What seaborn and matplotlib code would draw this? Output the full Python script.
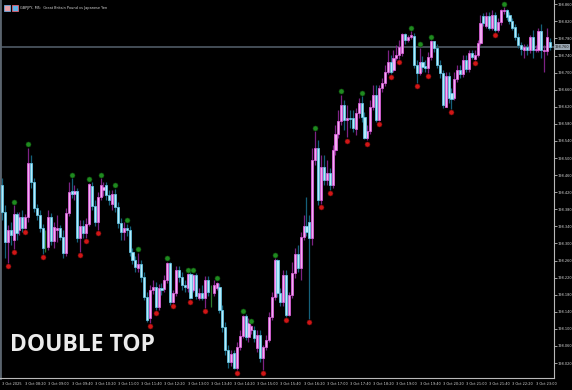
import numpy as np
import pandas as pd
import seaborn as sns
import matplotlib.pyplot as plt
from matplotlib.patches import Rectangle
from matplotlib import font_manager

# ---------------- data (GBPJPY M5, 3 Oct 2025) ----------------
opens = [198.437, 198.374, 198.304, 198.332, 198.308, 198.369, 198.332, 198.362, 198.336, 198.362,
         198.489, 198.444, 198.383, 198.367, 198.336, 198.290, 198.292, 198.362, 198.306, 198.332,
         198.336, 198.315, 198.278, 198.372, 198.423, 198.416, 198.423, 198.313, 198.341, 198.325,
         198.346, 198.435, 198.388, 198.351, 198.409, 198.425, 198.437, 198.414, 198.393, 198.416,
         198.386, 198.348, 198.327, 198.336, 198.332, 198.280, 198.262, 198.243, 198.252, 198.222,
         198.175, 198.126, 198.191, 198.198, 198.152, 198.196, 198.194, 198.215, 198.255, 198.163,
         198.184, 198.238, 198.222, 198.203, 198.196, 198.229, 198.191, 198.227, 198.173, 198.184,
         198.173, 198.215, 198.187, 198.184, 198.196, 198.198, 198.145, 198.105, 198.051, 198.023,
         198.044, 198.009, 198.058, 198.084, 198.131, 198.081, 198.098, 198.098, 198.056, 198.086,
         198.032, 198.058, 198.074, 198.128, 198.175, 198.262, 198.184, 198.163, 198.227, 198.133,
         198.180, 198.231, 198.276, 198.243, 198.315, 198.341, 198.351, 198.313, 198.496, 198.524,
         198.402, 198.479, 198.449, 198.465, 198.437, 198.519, 198.556, 198.587, 198.624, 198.589,
         198.594, 198.594, 198.568, 198.606, 198.629, 198.596, 198.547, 198.563, 198.620, 198.648,
         198.589, 198.664, 198.676, 198.702, 198.725, 198.706, 198.734, 198.741, 198.746, 198.790,
         198.776, 198.783, 198.786, 198.718, 198.699, 198.725, 198.716, 198.711, 198.737, 198.774,
         198.758, 198.718, 198.699, 198.620, 198.692, 198.652, 198.641, 198.685, 198.706, 198.697,
         198.730, 198.709, 198.746, 198.732, 198.741, 198.769, 198.833, 198.809, 198.833, 198.804,
         198.835, 198.800, 198.819, 198.844, 198.847, 198.835, 198.821, 198.807, 198.783, 198.765,
         198.753, 198.760, 198.753, 198.783, 198.753, 198.753, 198.797, 198.751, 198.751, 198.772]

closes = [198.374, 198.304, 198.332, 198.320, 198.369, 198.325, 198.362, 198.336, 198.362, 198.489,
          198.444, 198.383, 198.367, 198.336, 198.290, 198.290, 198.362, 198.306, 198.339, 198.336,
          198.315, 198.278, 198.372, 198.421, 198.416, 198.423, 198.313, 198.341, 198.325, 198.346,
          198.439, 198.388, 198.351, 198.409, 198.437, 198.432, 198.414, 198.402, 198.416, 198.386,
          198.348, 198.327, 198.336, 198.332, 198.280, 198.262, 198.245, 198.252, 198.222, 198.175,
          198.121, 198.191, 198.198, 198.152, 198.196, 198.191, 198.215, 198.255, 198.163, 198.184,
          198.238, 198.222, 198.203, 198.198, 198.229, 198.173, 198.227, 198.177, 198.184, 198.173,
          198.215, 198.187, 198.187, 198.203, 198.208, 198.145, 198.105, 198.051, 198.023, 198.042,
          198.009, 198.058, 198.084, 198.131, 198.081, 198.114, 198.107, 198.079, 198.086, 198.032,
          198.058, 198.074, 198.128, 198.175, 198.262, 198.184, 198.163, 198.227, 198.133, 198.180,
          198.231, 198.276, 198.243, 198.315, 198.341, 198.327, 198.313, 198.496, 198.524, 198.402,
          198.479, 198.449, 198.465, 198.437, 198.519, 198.556, 198.587, 198.624, 198.589, 198.594,
          198.592, 198.570, 198.606, 198.629, 198.596, 198.547, 198.563, 198.620, 198.648, 198.589,
          198.664, 198.676, 198.702, 198.725, 198.702, 198.734, 198.741, 198.760, 198.790, 198.776,
          198.783, 198.788, 198.718, 198.699, 198.725, 198.713, 198.711, 198.737, 198.774, 198.758,
          198.718, 198.699, 198.624, 198.692, 198.641, 198.638, 198.685, 198.706, 198.697, 198.730,
          198.709, 198.746, 198.737, 198.741, 198.769, 198.816, 198.816, 198.833, 198.804, 198.835,
          198.800, 198.819, 198.847, 198.847, 198.830, 198.821, 198.804, 198.783, 198.765, 198.755,
          198.760, 198.753, 198.783, 198.753, 198.755, 198.797, 198.753, 198.753, 198.783, 198.760]

highs = [198.453, 198.390, 198.344, 198.351, 198.390, 198.374, 198.374, 198.379, 198.369, 198.524,
         198.507, 198.453, 198.393, 198.379, 198.346, 198.332, 198.379, 198.372, 198.351, 198.367,
         198.344, 198.332, 198.383, 198.444, 198.453, 198.437, 198.430, 198.355, 198.355, 198.360,
         198.442, 198.444, 198.402, 198.421, 198.453, 198.444, 198.444, 198.425, 198.425, 198.428,
         198.397, 198.360, 198.351, 198.346, 198.341, 198.290, 198.271, 198.278, 198.262, 198.234,
         198.187, 198.203, 198.215, 198.210, 198.205, 198.208, 198.227, 198.257, 198.257, 198.191,
         198.248, 198.248, 198.234, 198.215, 198.231, 198.234, 198.229, 198.231, 198.196, 198.203,
         198.224, 198.224, 198.203, 198.215, 198.210, 198.208, 198.156, 198.117, 198.063, 198.051,
         198.051, 198.070, 198.098, 198.133, 198.135, 198.126, 198.110, 198.107, 198.098, 198.098,
         198.063, 198.086, 198.140, 198.187, 198.266, 198.264, 198.196, 198.238, 198.238, 198.187,
         198.257, 198.290, 198.297, 198.327, 198.367, 198.409, 198.367, 198.524, 198.563, 198.542,
         198.507, 198.507, 198.496, 198.477, 198.531, 198.578, 198.613, 198.648, 198.636, 198.624,
         198.613, 198.613, 198.617, 198.641, 198.645, 198.608, 198.578, 198.636, 198.671, 198.671,
         198.671, 198.687, 198.718, 198.753, 198.741, 198.753, 198.765, 198.776, 198.793, 198.793,
         198.788, 198.797, 198.793, 198.730, 198.758, 198.739, 198.730, 198.748, 198.776, 198.774,
         198.767, 198.730, 198.706, 198.702, 198.702, 198.664, 198.702, 198.718, 198.718, 198.741,
         198.741, 198.753, 198.753, 198.753, 198.776, 198.835, 198.840, 198.842, 198.842, 198.847,
         198.842, 198.828, 198.849, 198.853, 198.849, 198.842, 198.828, 198.814, 198.793, 198.772,
         198.767, 198.767, 198.788, 198.800, 198.765, 198.804, 198.814, 198.765, 198.804, 198.781]

lows = [198.355, 198.266, 198.255, 198.297, 198.287, 198.308, 198.320, 198.327, 198.334, 198.351,
        198.430, 198.374, 198.355, 198.327, 198.276, 198.280, 198.285, 198.297, 198.290, 198.304,
        198.308, 198.266, 198.271, 198.365, 198.407, 198.402, 198.304, 198.280, 198.313, 198.313,
        198.341, 198.379, 198.341, 198.332, 198.402, 198.411, 198.402, 198.390, 198.379, 198.374,
        198.336, 198.308, 198.308, 198.318, 198.271, 198.252, 198.234, 198.234, 198.210, 198.168,
        198.117, 198.114, 198.182, 198.145, 198.145, 198.180, 198.187, 198.208, 198.156, 198.161,
        198.177, 198.210, 198.191, 198.187, 198.187, 198.170, 198.187, 198.170, 198.168, 198.168,
        198.149, 198.177, 198.152, 198.177, 198.191, 198.138, 198.093, 198.039, 198.009, 198.014,
        198.007, 198.004, 198.051, 198.079, 198.074, 198.070, 198.088, 198.070, 198.046, 198.023,
        198.004, 198.051, 198.070, 198.121, 198.168, 198.175, 198.154, 198.154, 198.128, 198.131,
        198.173, 198.220, 198.234, 198.215, 198.308, 198.318, 198.124, 198.297, 198.484, 198.390,
        198.393, 198.437, 198.437, 198.425, 198.430, 198.507, 198.547, 198.578, 198.566, 198.549,
        198.570, 198.561, 198.554, 198.594, 198.585, 198.545, 198.542, 198.556, 198.613, 198.585,
        198.587, 198.655, 198.669, 198.697, 198.697, 198.702, 198.730, 198.732, 198.739, 198.767,
        198.772, 198.779, 198.711, 198.676, 198.695, 198.702, 198.702, 198.699, 198.730, 198.748,
        198.711, 198.687, 198.617, 198.620, 198.629, 198.615, 198.636, 198.678, 198.687, 198.690,
        198.702, 198.702, 198.732, 198.730, 198.737, 198.765, 198.809, 198.804, 198.800, 198.800,
        198.795, 198.795, 198.812, 198.837, 198.823, 198.814, 198.800, 198.776, 198.758, 198.741,
        198.734, 198.741, 198.746, 198.734, 198.748, 198.748, 198.734, 198.702, 198.741, 198.753]

fractal_up = [4, 9, 24, 30, 34, 39, 43, 47, 57, 64, 66, 74, 83, 86, 94, 108, 117, 124,
              141, 144, 148, 173]
fractal_down = [2, 4, 8, 14, 27, 29, 33, 51, 53, 59, 65, 70, 81, 90, 98, 106, 110, 113,
                119, 126, 130, 134, 137, 143, 147, 155, 163, 170]

x_tick_pos = [0, 8, 16, 24, 32, 40, 48, 56, 64, 72, 80, 88, 96, 104, 112, 120, 128,
              136, 144, 152, 160, 168, 176, 184]
x_tick_labels = ["3 Oct 2025", "3 Oct 08:20", "3 Oct 09:00", "3 Oct 09:40", "3 Oct 10:20",
                 "3 Oct 11:00", "3 Oct 11:40", "3 Oct 12:20", "3 Oct 13:00", "3 Oct 13:40",
                 "3 Oct 14:20", "3 Oct 15:00", "3 Oct 15:40", "3 Oct 16:20", "3 Oct 17:00",
                 "3 Oct 17:40", "3 Oct 18:20", "3 Oct 19:00", "3 Oct 19:40", "3 Oct 20:20",
                 "3 Oct 21:00", "3 Oct 21:40", "3 Oct 22:20", "3 Oct 23:00"]
y_ticks = [198.020, 198.060, 198.100, 198.140, 198.180, 198.220, 198.260, 198.300, 198.340,
           198.380, 198.420, 198.460, 198.500, 198.540, 198.580, 198.620, 198.660, 198.700,
           198.740, 198.780, 198.820, 198.860]
price_line = 198.760
title_text = "GBPJPY, M5:  Great Britain Pound vs Japanese Yen"
overlay_text = "DOUBLE TOP"

# ---------------- style ----------------
sns.set_theme(style="dark")
plt.rcParams['font.family'] = ['DejaVu Sans']

# pick a narrow face for the tiny axis texts (falls back to DejaVu Sans)
small_fp = None
for f in font_manager.fontManager.ttflist:
    if f.name == "Liberation Sans Narrow" and f.weight in (400, "normal", "regular") and f.style == "normal":
        small_fp = font_manager.FontProperties(fname=f.fname)
        break
if small_fp is None:
    for f in font_manager.fontManager.ttflist:
        fn = f.fname.lower()
        if "dejavusanscondensed.ttf" in fn or ("condensed" in fn and "dejavusans" in fn
                                              and "bold" not in fn and "oblique" not in fn):
            small_fp = font_manager.FontProperties(fname=f.fname)
            break
if small_fp is None:
    small_fp = font_manager.FontProperties(family="DejaVu Sans")
SMALL = 2.75
small_fp.set_size(SMALL)
big_font = "Open Sans" if any(f.name == "Open Sans" for f in font_manager.fontManager.ttflist) else "DejaVu Sans"

BULL_BODY, BULL_EDGE, BULL_WICK = "#f2aef2", "#de5ede", "#7d2284"
BEAR_BODY, BEAR_EDGE, BEAR_WICK = "#b6ecfb", "#62c6e6", "#15607a"
DOJI_WICK = "#2c7a2c"
AXIS_COL = "#b8b8b8"

df = pd.DataFrame({"open": opens, "high": highs, "low": lows, "close": closes})
df["idx"] = np.arange(len(df))
bull = df["close"] > df["open"]
bear = df["close"] < df["open"]
doji = df["close"] == df["open"]

fig = plt.figure(figsize=(5.72, 3.90), dpi=100, facecolor="black")
ax = fig.add_axes([0.0, 12 / 390, 554 / 572, 378 / 390])
ax.set_facecolor("black")

# price line
ax.axhline(price_line, color="#4f5964", lw=1.2, zorder=1)

# wicks
for mask, col in ((bull, BULL_WICK), (bear, BEAR_WICK), (doji, DOJI_WICK)):
    sub = df[mask]
    ax.vlines(sub["idx"], sub["low"], sub["high"], color=col, lw=0.9, zorder=2)

# bodies
for mask, fc, ec in ((bull, BULL_BODY, BULL_EDGE), (bear, BEAR_BODY, BEAR_EDGE)):
    sub = df[mask]
    bottom = np.minimum(sub["open"], sub["close"])
    height = np.maximum(np.abs(sub["close"] - sub["open"]), 0.0012)
    ax.bar(sub["idx"], height, bottom=bottom, width=0.72, color=fc, edgecolor=ec,
           linewidth=0.55, zorder=3)

# fractal markers
up = df.iloc[fractal_up]
dn = df.iloc[fractal_down]
sns.scatterplot(x=up["idx"], y=up["high"] + 0.008, ax=ax, color="#1f8a1f", s=13,
                edgecolor="#0e4f0e", linewidth=0.4, zorder=5, legend=False)
sns.scatterplot(x=dn["idx"], y=dn["low"] - 0.008, ax=ax, color="#d01616", s=13,
                edgecolor="#6e0a0a", linewidth=0.4, zorder=5, legend=False)

# axes limits / ticks
ax.set_xlim(-0.69, 190.35)
ax.set_ylim(197.985, 198.870)
ax.yaxis.tick_right()
ax.set_yticks(y_ticks)
ax.set_yticklabels([f"{v:.3f}" for v in y_ticks])
ax.set_xticks(x_tick_pos)
ax.set_xticklabels(x_tick_labels, ha="left")
ax.tick_params(axis="both", colors=AXIS_COL, labelcolor="#d8d8d8",
               length=2.2, width=0.6, direction="out", pad=0.5)
for lab in ax.get_xticklabels() + ax.get_yticklabels():
    lab.set_fontproperties(small_fp)
ax.set_xlabel("")
ax.set_ylabel("")
ax.grid(False)

ax.spines["top"].set_visible(False)
ax.spines["right"].set_color(AXIS_COL)
ax.spines["right"].set_linewidth(0.8)
ax.spines["bottom"].set_color(AXIS_COL)
ax.spines["bottom"].set_linewidth(0.8)
ax.spines["left"].set_color("#5a646e")
ax.spines["left"].set_linewidth(2.0)

# current price label
ax.text(1.002, price_line, f"{price_line:.3f}", transform=ax.get_yaxis_transform(),
        ha="left", va="center", fontproperties=small_fp, color="#1a1a1a", zorder=6,
        clip_on=False,
        bbox=dict(boxstyle="square,pad=0.2", facecolor="#9aa6b2", edgecolor="none"))

# title with small icons
ax.add_patch(Rectangle((4 / 554, 1 - 11 / 378), 6 / 554, 6 / 378, transform=ax.transAxes,
                       facecolor="#e8a0a8", edgecolor="#6fa8dc", lw=0.6, zorder=6))
ax.add_patch(Rectangle((12 / 554, 1 - 11 / 378), 6 / 554, 6 / 378, transform=ax.transAxes,
                       facecolor="#5fb2e8", edgecolor="#e06070", lw=0.6, zorder=6))
ax.text(20 / 554, 1 - 8 / 378, title_text, transform=ax.transAxes, ha="left", va="center",
        fontproperties=small_fp, color="#d8d8d8", zorder=6)

# overlay label
ax.text(10 / 554, 1 - 345 / 378, overlay_text, transform=ax.transAxes, ha="left",
        va="center", fontsize=16.5, fontweight="bold", color="#ececec", family=big_font,
        zorder=7)

fig.savefig("out.png", dpi=100, facecolor="black")
